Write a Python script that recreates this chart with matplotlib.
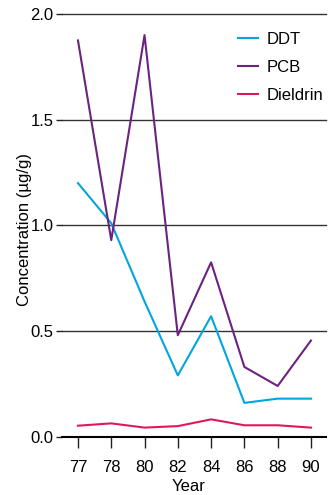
import matplotlib
matplotlib.use("Agg")
import matplotlib.pyplot as plt
import numpy as np

plt.rcParams['font.family'] = ['Liberation Sans Narrow', 'Liberation Sans', 'DejaVu Sans']

years = ["77", "78", "80", "82", "84", "86", "88", "90"]
ddt = [1.20, 1.01, 0.64, 0.29, 0.57, 0.16, 0.18, 0.18]
pcb = [1.875, 0.93, 1.90, 0.48, 0.825, 0.33, 0.24, 0.455]
dieldrin = [0.052, 0.063, 0.043, 0.050, 0.082, 0.054, 0.054, 0.043]

series = [("DDT", ddt, "#00a6dd"), ("PCB", pcb, "#6b2280"), ("Dieldrin", dieldrin, "#e0185a")]

fig = plt.figure(figsize=(3.36, 4.95), dpi=100)
ax = fig.add_axes([0.1845, 0.1178, 0.7855, 0.8539])

x = np.arange(len(years))
for name, vals, color in series:
    ax.plot(x, vals, color=color, lw=1.5, label=name, zorder=3)

ax.set_xlim(-0.48, len(years) - 1 + 0.45)
ax.set_ylim(0, 2.0)
ax.set_yticks([0.0, 0.5, 1.0, 1.5, 2.0])
ax.set_yticklabels(["0.0", "0.5", "1.0", "1.5", "2.0"])
ax.set_xticks(x)
ax.set_xticklabels(years)

for yv in [0.5, 1.0, 1.5, 2.0]:
    ax.axhline(yv, color="#333333", lw=1.0, zorder=1, clip_on=False)

for s in ["top", "right", "left"]:
    ax.spines[s].set_visible(False)
ax.spines["bottom"].set_color("black")
ax.spines["bottom"].set_linewidth(1.5)

ax.tick_params(axis="x", direction="out", length=8, width=1, labelsize=12, pad=9, color="#222222")
ax.tick_params(axis="y", direction="out", length=4, width=1, labelsize=12, pad=2, color="#222222")

ax.set_xlabel("Year", fontsize=12)
ax.xaxis.set_label_coords(0.48, -0.119, transform=ax.transAxes)
ax.xaxis.label.set_va("center")
ax.set_ylabel("Concentration (µg/g)", fontsize=12)
ax.yaxis.set_label_coords(-0.142, 0.49, transform=ax.transAxes)
ax.yaxis.label.set_va("center")

leg = ax.legend(loc="upper right", bbox_to_anchor=(1.034, 0.986), frameon=False, fontsize=12,
                handlelength=1.2, handletextpad=0.5, labelspacing=0.78,
                borderaxespad=0.3)

fig.savefig("out.png", dpi=100)
